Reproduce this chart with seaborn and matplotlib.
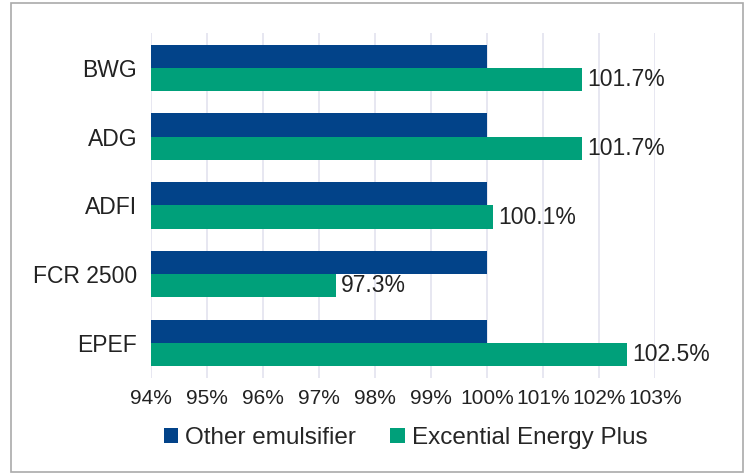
import pandas as pd
import matplotlib.pyplot as plt
import seaborn as sns
from matplotlib.patches import Rectangle

categories = ["BWG", "ADG", "ADFI", "FCR 2500", "EPEF"]
other_emulsifier = [100.0, 100.0, 100.0, 100.0, 100.0]
excential = [101.7, 101.7, 100.1, 97.3, 102.5]
series_names = ["Other emulsifier", "Excential Energy Plus"]
tick_values = [94, 95, 96, 97, 98, 99, 100, 101, 102, 103]

df = pd.DataFrame({
    "metric": categories * 2,
    "value": other_emulsifier + excential,
    "series": [series_names[0]] * len(categories) + [series_names[1]] * len(categories),
})

sns.set_style("white")
plt.rcParams['font.family'] = ['Liberation Sans', 'DejaVu Sans']

fig = plt.figure(figsize=(7.5, 4.74), dpi=100)
ax = fig.add_axes([0.2013, 0.203, 0.672, 0.727])

palette = {series_names[0]: "#024389", series_names[1]: "#00A07A"}
sns.barplot(data=df, y="metric", x="value", hue="series", orient="h",
            palette=palette, width=0.67, ax=ax, saturation=1, linewidth=0)

ax.set_xlim(94, 103)
ax.set_xticks(tick_values)
ax.set_xticklabels([f"{v}%" for v in tick_values], fontsize=15, color="#222222")
ax.tick_params(axis="y", labelsize=16.5, labelcolor="#222222", length=0, pad=10)
ax.tick_params(axis="x", length=0, pad=8)
ax.set_xlabel("")
ax.set_ylabel("")
ax.grid(axis="x", color="#e3e3ef", linewidth=1.2)
ax.set_axisbelow(True)
for s in ax.spines.values():
    s.set_visible(False)

# labels only on the green bars
green = ax.containers[1]
ax.bar_label(green, labels=[f"{v}%" for v in excential], padding=4,
             fontsize=16.5, color="#222222")

handles, labels = ax.get_legend_handles_labels()
ax.get_legend().remove()
fig.legend(handles, labels, loc="center", bbox_to_anchor=(0.541, 0.076), ncol=2,
           frameon=False, fontsize=17.5, handlelength=0.6, handleheight=0.6,
           handletextpad=0.3, columnspacing=1.4)

fig.patches.append(Rectangle((0.015, 0.004), 0.975, 0.99, transform=fig.transFigure,
                             fill=False, edgecolor="#aaaaaa", linewidth=1.2))

fig.savefig("out.png", dpi=100)
